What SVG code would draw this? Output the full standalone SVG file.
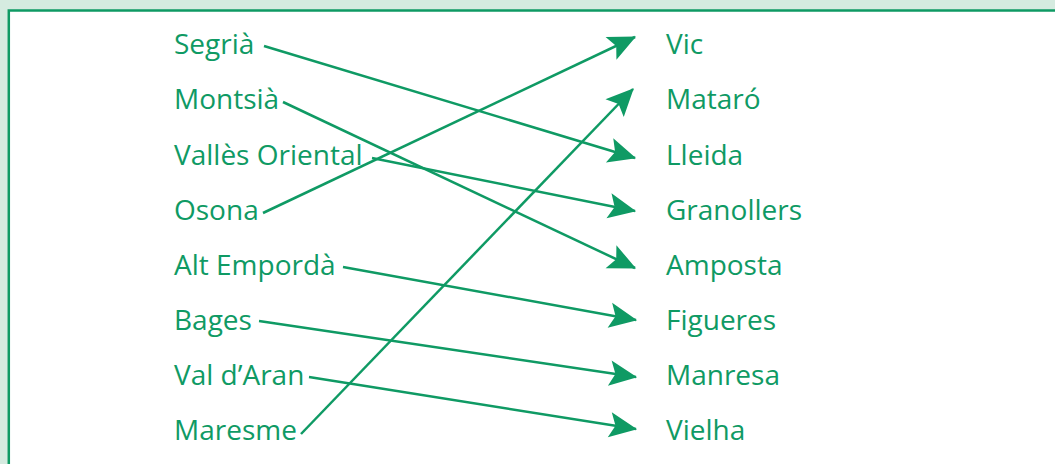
<svg xmlns="http://www.w3.org/2000/svg" width="1055" height="464" viewBox="0 0 1055 464">
<style>
  .t { font-family: "Open Sans", "Liberation Sans", sans-serif; font-size: 28px; fill: #0f9a64; }
  .c { stroke: #0f9a64; stroke-width: 2.5; fill: none; marker-end: url(#ah); }
</style>
<defs>
  <marker id="ah" markerUnits="userSpaceOnUse" markerWidth="30" markerHeight="30" viewBox="-24 -12 26 24" refX="0" refY="0" orient="auto">
    <path d="M-23,-11 L1,0 L-23,11 L-18,0 Z" fill="#0f9a64"/>
  </marker>
</defs>
<rect x="0" y="0" width="1055" height="464" fill="#d5ebe0"/>
<rect x="8.8" y="10.5" width="1060" height="470" fill="#ffffff" stroke="#0f9a64" stroke-width="2.5"/>
<g id="connectors">
  <line class="c" x1="264" y1="46" x2="635" y2="158"/>
  <line class="c" x1="283" y1="102" x2="635" y2="268"/>
  <line class="c" x1="372" y1="158" x2="635" y2="211"/>
  <line class="c" x1="263" y1="213" x2="635" y2="37"/>
  <line class="c" x1="343" y1="267" x2="636" y2="320"/>
  <line class="c" x1="259" y1="321" x2="636" y2="377"/>
  <line class="c" x1="309" y1="377" x2="636" y2="429"/>
  <line class="c" x1="301" y1="434" x2="633" y2="89"/>
</g>
<g id="left">
  <g id="n-segria"><text class="t" x="174" y="54">Segrià</text></g>
  <g id="n-montsia"><text class="t" x="174" y="109">Montsià</text></g>
  <g id="n-valles"><text class="t" x="174" y="164.5">Vallès Oriental</text></g>
  <g id="n-osona"><text class="t" x="174" y="219.5">Osona</text></g>
  <g id="n-alt"><text class="t" x="174" y="274.5">Alt Empordà</text></g>
  <g id="n-bages"><text class="t" x="174" y="330">Bages</text></g>
  <g id="n-aran"><text class="t" x="174" y="385">Val d’Aran</text></g>
  <g id="n-maresme"><text class="t" x="174" y="440">Maresme</text></g>
</g>
<g id="right">
  <g id="n-vic"><text class="t" x="666" y="54">Vic</text></g>
  <g id="n-mataro"><text class="t" x="666" y="109">Mataró</text></g>
  <g id="n-lleida"><text class="t" x="666" y="164.5">Lleida</text></g>
  <g id="n-granollers"><text class="t" x="666" y="219.5">Granollers</text></g>
  <g id="n-amposta"><text class="t" x="666" y="274.5">Amposta</text></g>
  <g id="n-figueres"><text class="t" x="666" y="330">Figueres</text></g>
  <g id="n-manresa"><text class="t" x="666" y="385">Manresa</text></g>
  <g id="n-vielha"><text class="t" x="666" y="440">Vielha</text></g>
</g>
</svg>
